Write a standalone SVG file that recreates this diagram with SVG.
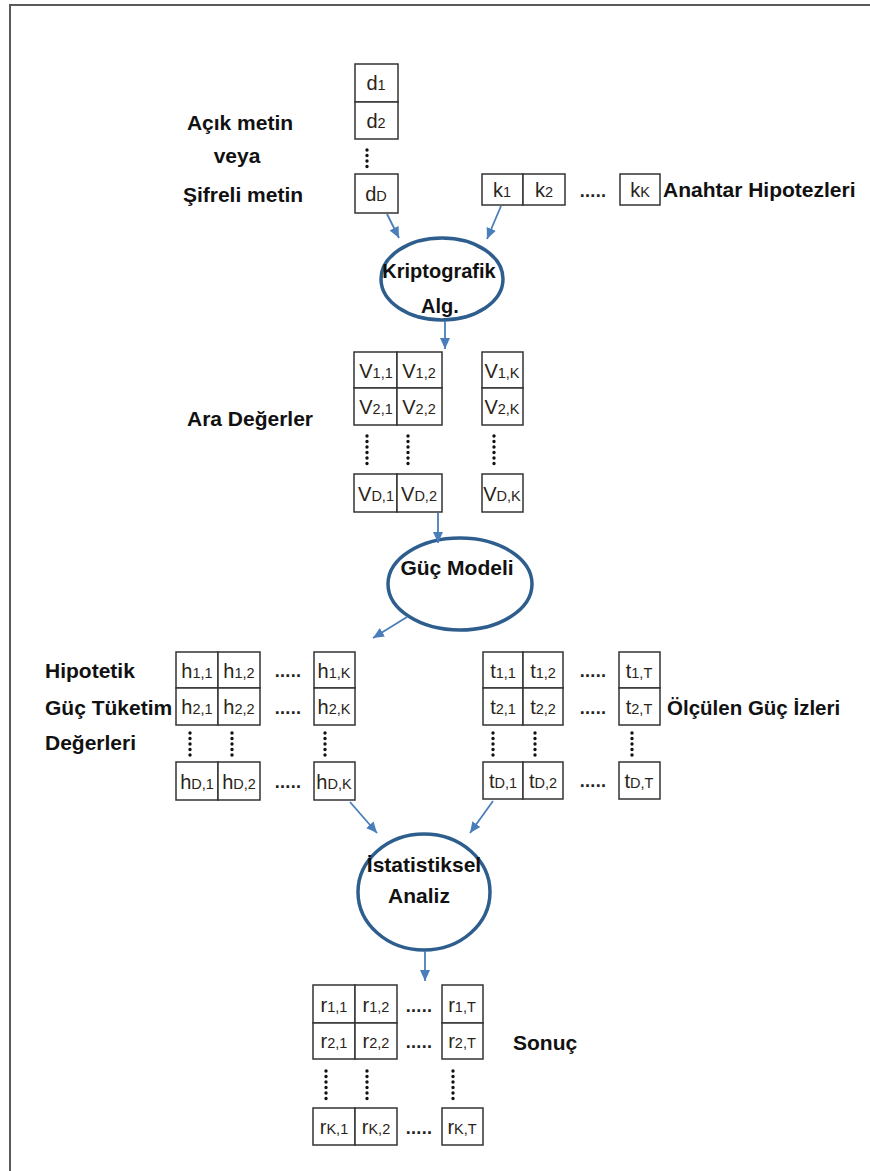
<svg xmlns="http://www.w3.org/2000/svg" width="870" height="1171" viewBox="0 0 870 1171">
  <style>
    .lbl { font-family: "Liberation Sans", Arial, sans-serif; font-weight: bold; font-size: 21px; fill: #111; }
    .cell { fill: #fff; stroke: #333; stroke-width: 1.5; }
    .ct { font-family: "Liberation Sans", Arial, sans-serif; font-size: 20px; fill: #2a2418; text-anchor: middle; }
    .sub { font-size: 14.5px; }
    .hd { font-family: "Liberation Sans", Arial, sans-serif; font-weight: bold; font-size: 18px; fill: #222; text-anchor: middle; letter-spacing: 0.3px; }
    .vd { stroke: #111; stroke-width: 3.4; stroke-linecap: round; stroke-dasharray: 0 5.5; fill: none; }
    .proc { fill: #fff; stroke: #2e5e8e; stroke-width: 3.5; }
    .conn { stroke: #4a7ebb; stroke-width: 1.8; fill: none; marker-end: url(#arrow); }
  </style>
  <defs>
    <marker id="arrow" markerUnits="userSpaceOnUse" markerWidth="12" markerHeight="12" refX="11" refY="5" orient="auto">
      <path d="M0,0 L11,5 L0,10 z" fill="#4a7ebb"/>
    </marker>
  </defs>

  <rect width="870" height="1171" fill="#fff"/>
  <!-- page frame -->
  <rect x="10" y="5" width="900" height="1200" fill="none" stroke="#5a5a5a" stroke-width="2"/>

  <!-- plaintext / ciphertext column -->
  <g id="plaintext">
    <text class="lbl" x="240" y="130" text-anchor="middle">Açık metin</text>
    <text class="lbl" x="237" y="163" text-anchor="middle">veya</text>
    <text class="lbl" x="243" y="202" text-anchor="middle">Şifreli metin</text>
    <rect class="cell" x="355" y="64" width="43" height="38"/>
    <rect class="cell" x="355" y="102" width="43" height="37"/>
    <rect class="cell" x="355" y="174" width="43" height="39"/>
    <text class="ct" x="376" y="90">d<tspan class="sub">1</tspan></text>
    <text class="ct" x="376" y="128">d<tspan class="sub">2</tspan></text>
    <text class="ct" x="376" y="201">d<tspan class="sub">D</tspan></text>
    <line class="vd" x1="367" y1="150" x2="367" y2="172"/>
  </g>

  <!-- key hypotheses -->
  <g id="keys">
    <rect class="cell" x="482" y="174" width="41" height="31"/>
    <rect class="cell" x="523" y="174" width="42" height="31"/>
    <rect class="cell" x="620" y="174" width="40" height="31"/>
    <text class="ct" x="502" y="197">k<tspan class="sub">1</tspan></text>
    <text class="ct" x="544" y="197">k<tspan class="sub">2</tspan></text>
    <text class="hd" x="593" y="197">.....</text>
    <text class="ct" x="640" y="197">k<tspan class="sub">K</tspan></text>
    <text class="lbl" x="663" y="197">Anahtar Hipotezleri</text>
  </g>

  <!-- cryptographic algorithm -->
  <g id="crypto-alg">
    <ellipse class="proc" cx="442" cy="279" rx="61" ry="41"/>
    <text class="lbl" x="439" y="278" text-anchor="middle" style="font-size:20px">Kriptografik</text>
    <text class="lbl" x="440" y="313" text-anchor="middle" style="font-size:20px">Alg.</text>
  </g>

  <!-- intermediate values -->
  <g id="intermediate">
    <text class="lbl" x="250" y="426" text-anchor="middle">Ara Değerler</text>
    <rect class="cell" x="354" y="352" width="43" height="36"/>
    <rect class="cell" x="397" y="352" width="45" height="36"/>
    <rect class="cell" x="354" y="388" width="43" height="37"/>
    <rect class="cell" x="397" y="388" width="45" height="37"/>
    <rect class="cell" x="482" y="352" width="41" height="36"/>
    <rect class="cell" x="482" y="388" width="41" height="37"/>
    <rect class="cell" x="354" y="474" width="43" height="38"/>
    <rect class="cell" x="397" y="474" width="45" height="38"/>
    <rect class="cell" x="482" y="474" width="41" height="38"/>
    <text class="ct" x="376" y="378">V<tspan class="sub">1,1</tspan></text>
    <text class="ct" x="419" y="378">V<tspan class="sub">1,2</tspan></text>
    <text class="ct" x="502" y="378">V<tspan class="sub">1,K</tspan></text>
    <text class="ct" x="376" y="414">V<tspan class="sub">2,1</tspan></text>
    <text class="ct" x="419" y="414">V<tspan class="sub">2,2</tspan></text>
    <text class="ct" x="502" y="414">V<tspan class="sub">2,K</tspan></text>
    <text class="ct" x="376" y="501">V<tspan class="sub">D,1</tspan></text>
    <text class="ct" x="419" y="501">V<tspan class="sub">D,2</tspan></text>
    <text class="ct" x="502" y="501">V<tspan class="sub">D,K</tspan></text>
    <line class="vd" x1="367" y1="436" x2="367" y2="467"/>
    <line class="vd" x1="408" y1="436" x2="408" y2="467"/>
    <line class="vd" x1="494" y1="436" x2="494" y2="467"/>
  </g>

  <!-- power model -->
  <g id="power-model">
    <ellipse class="proc" cx="460" cy="584" rx="72" ry="46"/>
    <text class="lbl" x="457" y="575" text-anchor="middle">Güç Modeli</text>
  </g>

  <!-- hypothetical power consumption -->
  <g id="hypothetical">
    <text class="lbl" x="45" y="678">Hipotetik</text>
    <text class="lbl" x="45" y="715">Güç Tüketim</text>
    <text class="lbl" x="45" y="750">Değerleri</text>
    <rect class="cell" x="176" y="652" width="42" height="36"/>
    <rect class="cell" x="218" y="652" width="42" height="36"/>
    <rect class="cell" x="314" y="652" width="41" height="36"/>
    <rect class="cell" x="176" y="688" width="42" height="37"/>
    <rect class="cell" x="218" y="688" width="42" height="37"/>
    <rect class="cell" x="314" y="688" width="41" height="37"/>
    <rect class="cell" x="176" y="762" width="42" height="38"/>
    <rect class="cell" x="218" y="762" width="42" height="38"/>
    <rect class="cell" x="314" y="762" width="41" height="38"/>
    <text class="ct" x="197" y="678">h<tspan class="sub">1,1</tspan></text>
    <text class="ct" x="239" y="678">h<tspan class="sub">1,2</tspan></text>
    <text class="hd" x="288" y="677">.....</text>
    <text class="ct" x="334" y="678">h<tspan class="sub">1,K</tspan></text>
    <text class="ct" x="197" y="714">h<tspan class="sub">2,1</tspan></text>
    <text class="ct" x="239" y="714">h<tspan class="sub">2,2</tspan></text>
    <text class="hd" x="288" y="714">.....</text>
    <text class="ct" x="334" y="714">h<tspan class="sub">2,K</tspan></text>
    <text class="ct" x="197" y="789">h<tspan class="sub">D,1</tspan></text>
    <text class="ct" x="239" y="789">h<tspan class="sub">D,2</tspan></text>
    <text class="hd" x="288" y="788">.....</text>
    <text class="ct" x="334" y="789">h<tspan class="sub">D,K</tspan></text>
    <line class="vd" x1="190" y1="733" x2="190" y2="760"/>
    <line class="vd" x1="232" y1="733" x2="232" y2="760"/>
    <line class="vd" x1="325" y1="733" x2="325" y2="760"/>
  </g>

  <!-- measured power traces -->
  <g id="traces">
    <rect class="cell" x="483" y="652" width="40" height="36"/>
    <rect class="cell" x="523" y="652" width="40" height="36"/>
    <rect class="cell" x="619" y="652" width="41" height="36"/>
    <rect class="cell" x="483" y="688" width="40" height="37"/>
    <rect class="cell" x="523" y="688" width="40" height="37"/>
    <rect class="cell" x="619" y="688" width="41" height="37"/>
    <rect class="cell" x="483" y="762" width="40" height="37"/>
    <rect class="cell" x="523" y="762" width="40" height="37"/>
    <rect class="cell" x="619" y="762" width="41" height="37"/>
    <text class="ct" x="503" y="678">t<tspan class="sub">1,1</tspan></text>
    <text class="ct" x="543" y="678">t<tspan class="sub">1,2</tspan></text>
    <text class="hd" x="593" y="677">.....</text>
    <text class="ct" x="639" y="678">t<tspan class="sub">1,T</tspan></text>
    <text class="ct" x="503" y="714">t<tspan class="sub">2,1</tspan></text>
    <text class="ct" x="543" y="714">t<tspan class="sub">2,2</tspan></text>
    <text class="hd" x="593" y="714">.....</text>
    <text class="ct" x="639" y="714">t<tspan class="sub">2,T</tspan></text>
    <text class="ct" x="503" y="788">t<tspan class="sub">D,1</tspan></text>
    <text class="ct" x="543" y="788">t<tspan class="sub">D,2</tspan></text>
    <text class="hd" x="593" y="787">.....</text>
    <text class="ct" x="639" y="788">t<tspan class="sub">D,T</tspan></text>
    <line class="vd" x1="493" y1="733" x2="493" y2="760"/>
    <line class="vd" x1="535" y1="733" x2="535" y2="760"/>
    <line class="vd" x1="632" y1="733" x2="632" y2="760"/>
    <text class="lbl" x="667" y="715" style="font-size:20.5px">Ölçülen Güç İzleri</text>
  </g>

  <!-- statistical analysis -->
  <g id="stat-analysis">
    <ellipse class="proc" cx="424" cy="892" rx="66" ry="58"/>
    <text class="lbl" x="424" y="872" text-anchor="middle">İstatistiksel</text>
    <text class="lbl" x="419" y="903" text-anchor="middle">Analiz</text>
  </g>

  <!-- result -->
  <g id="result">
    <rect class="cell" x="313" y="985" width="42" height="38"/>
    <rect class="cell" x="355" y="985" width="42" height="38"/>
    <rect class="cell" x="442" y="985" width="41" height="38"/>
    <rect class="cell" x="313" y="1023" width="42" height="36"/>
    <rect class="cell" x="355" y="1023" width="42" height="36"/>
    <rect class="cell" x="442" y="1023" width="41" height="36"/>
    <rect class="cell" x="313" y="1108" width="42" height="37"/>
    <rect class="cell" x="355" y="1108" width="42" height="37"/>
    <rect class="cell" x="442" y="1108" width="41" height="37"/>
    <text class="ct" x="334" y="1012">r<tspan class="sub">1,1</tspan></text>
    <text class="ct" x="376" y="1012">r<tspan class="sub">1,2</tspan></text>
    <text class="hd" x="419" y="1012">.....</text>
    <text class="ct" x="462" y="1012">r<tspan class="sub">1,T</tspan></text>
    <text class="ct" x="334" y="1048">r<tspan class="sub">2,1</tspan></text>
    <text class="ct" x="376" y="1048">r<tspan class="sub">2,2</tspan></text>
    <text class="hd" x="419" y="1048">.....</text>
    <text class="ct" x="462" y="1048">r<tspan class="sub">2,T</tspan></text>
    <text class="ct" x="334" y="1134">r<tspan class="sub">K,1</tspan></text>
    <text class="ct" x="376" y="1134">r<tspan class="sub">K,2</tspan></text>
    <text class="hd" x="419" y="1134">.....</text>
    <text class="ct" x="462" y="1134">r<tspan class="sub">K,T</tspan></text>
    <line class="vd" x1="326" y1="1071" x2="326" y2="1100"/>
    <line class="vd" x1="367" y1="1071" x2="367" y2="1100"/>
    <line class="vd" x1="453" y1="1071" x2="453" y2="1100"/>
    <text class="lbl" x="513" y="1050">Sonuç</text>
  </g>

  <!-- connectors -->
  <g id="connectors">
    <line class="conn" x1="387" y1="214" x2="399" y2="238"/>
    <line class="conn" x1="501" y1="206" x2="487" y2="239"/>
    <line class="conn" x1="445" y1="321" x2="445" y2="349"/>
    <line class="conn" x1="438" y1="513" x2="438" y2="543"/>
    <line class="conn" x1="407" y1="617" x2="373" y2="638"/>
    <line class="conn" x1="350" y1="802" x2="377" y2="833"/>
    <line class="conn" x1="493" y1="801" x2="470" y2="833"/>
    <line class="conn" x1="425" y1="951" x2="425" y2="981"/>
  </g>
</svg>
